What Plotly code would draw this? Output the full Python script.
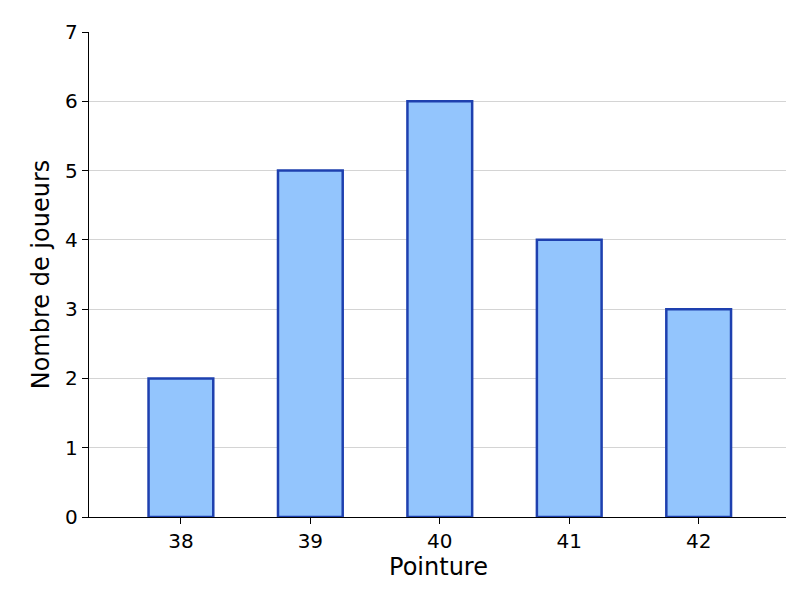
import plotly.graph_objects as go

pointures = [38, 39, 40, 41, 42]
joueurs = [2, 5, 6, 4, 3]

fig = go.Figure(go.Bar(
    x=pointures, y=joueurs, width=0.5,
    marker=dict(color="#93c5fd", line=dict(color="#1e40af", width=2.5)),
))
fig.update_layout(
    width=794, height=602, plot_bgcolor="white", paper_bgcolor="white",
    margin=dict(l=81, r=14, t=24, b=93, pad=0),
    font=dict(family="DejaVu Sans", size=20, color="black"),
    showlegend=False,
)
fig.update_xaxes(
    title_text="Pointure", range=[37.29, 42.69], tickvals=pointures,
    showline=True, linecolor="black", linewidth=1.3, ticks="outside",
    ticklen=6, tickcolor="black", showgrid=False, title_standoff=6,
    automargin=False,
)
fig.update_yaxes(
    title_text="Nombre de joueurs", range=[0, 7], dtick=1,
    showline=True, linecolor="black", linewidth=1.3, ticks="outside",
    ticklen=6, tickcolor="black", gridcolor="#d4d4d4", zeroline=False,
    title_standoff=8, automargin=False,
)
fig.write_html("out.html")
